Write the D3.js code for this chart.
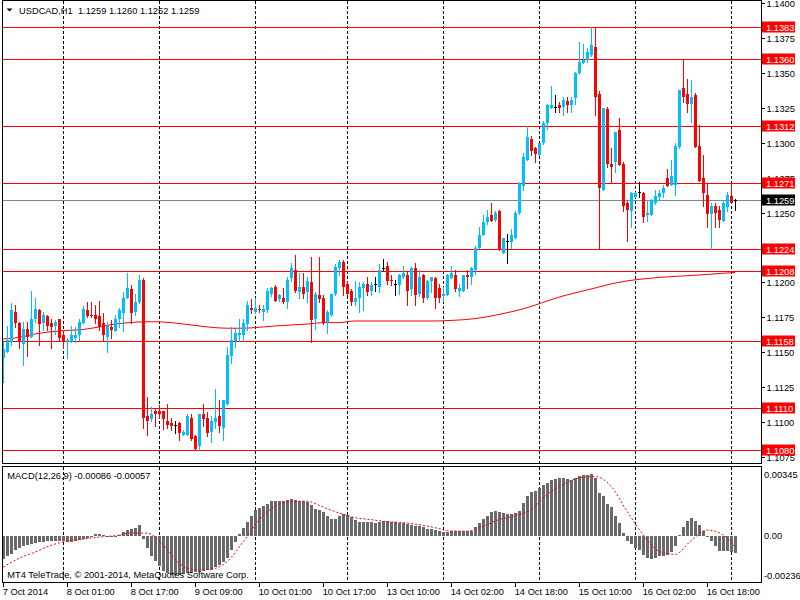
<!DOCTYPE html>
<html><head><meta charset="utf-8">
<script src="https://cdn.jsdelivr.net/npm/d3@7"></script>
<style>
body{margin:0;background:#fff;}
svg{display:block;font-family:'Liberation Sans',Arial,sans-serif;font-size:9.3px;}
</style></head><body>
<svg id="chart" width="800" height="600"></svg>
<script>
// ---------------- DATA ----------------
const headerText = "USDCAD,H1  1.1259 1.1260 1.1252 1.1259";
const macdTitle = "MACD(12,26,9) -0.00086 -0.00057";
const copyright = "MT4 TeleTrade, \u00A9 2001-2014, MetaQuotes Software Corp.";

const open = [
1.1146,1.1150,1.1157,1.1179,1.1171,1.1156,1.1167,1.1161,1.1174,1.1180,
1.1171,1.1176,1.1171,1.1169,1.1174,1.1162,1.1157,1.1157,1.1160,1.1162,
1.1171,1.1180,1.1177,1.1177,1.1176,1.1171,1.1161,1.1168,1.1165,1.1174,
1.1178,1.1189,1.1195,1.1179,1.1186,1.1202,1.1104,1.1102,1.1108,1.1108,
1.1108,1.1101,1.1099,1.1098,1.1099,1.1091,1.1091,1.1103,1.1090,1.1083,
1.1106,1.1103,1.1093,1.1100,1.1104,1.1096,1.1113,1.1147,1.1158,1.1162,
1.1162,1.1170,1.1182,1.1179,1.1181,1.1179,1.1180,1.1192,1.1197,1.1188,
1.1189,1.1186,1.1203,1.1209,1.1193,1.1197,1.1193,1.1200,1.1174,1.1191,
1.1189,1.1172,1.1177,1.1192,1.1210,1.1215,1.1199,1.1194,1.1186,1.1189,
1.1196,1.1199,1.1194,1.1199,1.1197,1.1210,1.1212,1.1202,1.1199,1.1198,
1.1204,1.1205,1.1195,1.1210,1.1192,1.1205,1.1189,1.1201,1.1203,1.1196,
1.1190,1.1191,1.1203,1.1205,1.1194,1.1194,1.1205,1.1204,1.1209,1.1225,
1.1234,1.1243,1.1248,1.1245,1.1251,1.1221,1.1230,1.1229,1.1232,1.1250,
1.1269,1.1288,1.1303,1.1296,1.1291,1.1300,1.1314,1.1325,1.1326,1.1327,
1.1326,1.1330,1.1327,1.1332,1.1350,1.1357,1.1359,1.1363,1.1369,1.1335,
1.1266,1.1324,1.1285,1.1286,1.1309,1.1285,1.1257,1.1251,1.1261,1.1265,
1.1264,1.1248,1.1248,1.1257,1.1261,1.1264,1.1275,1.1270,1.1270,1.1297,
1.1339,1.1335,1.1328,1.1334,1.1298,1.1275,1.1263,1.1249,1.1255,1.1252,
1.1244,1.1254,1.1262,1.1259];
const high = [
1.1157,1.1169,1.1185,1.1184,1.1172,1.1172,1.1172,1.1194,1.1189,1.1181,
1.1179,1.1177,1.1174,1.1173,1.1174,1.1165,1.1160,1.1169,1.1168,1.1174,
1.1183,1.1186,1.1186,1.1184,1.1187,1.1178,1.1172,1.1173,1.1177,1.1182,
1.1193,1.1207,1.1198,1.1192,1.1205,1.1203,1.1118,1.1111,1.1109,1.1112,
1.1108,1.1113,1.1103,1.1101,1.1100,1.1094,1.1106,1.1106,1.1091,1.1106,
1.1113,1.1107,1.1104,1.1124,1.1116,1.1116,1.1154,1.1168,1.1167,1.1174,
1.1174,1.1187,1.1188,1.1189,1.1184,1.1184,1.1196,1.1197,1.1198,1.1192,
1.1196,1.1204,1.1214,1.1220,1.1207,1.1207,1.1204,1.1218,1.1193,1.1218,
1.1191,1.1180,1.1192,1.1213,1.1216,1.1216,1.1201,1.1195,1.1201,1.1200,
1.1200,1.1204,1.1200,1.1204,1.1213,1.1217,1.1215,1.1205,1.1202,1.1206,
1.1212,1.1208,1.1211,1.1214,1.1209,1.1206,1.1202,1.1204,1.1204,1.1199,
1.1197,1.1206,1.1212,1.1209,1.1199,1.1205,1.1209,1.1211,1.1226,1.1240,
1.1248,1.1252,1.1257,1.1251,1.1252,1.1232,1.1235,1.1238,1.1251,1.1272,
1.1293,1.1312,1.1305,1.1297,1.1300,1.1316,1.1328,1.1341,1.1334,1.1329,
1.1333,1.1333,1.1333,1.1351,1.1372,1.1371,1.1368,1.1383,1.1383,1.1337,
1.1325,1.1326,1.1296,1.1308,1.1318,1.1286,1.1258,1.1265,1.1265,1.1272,
1.1265,1.1259,1.1260,1.1266,1.1266,1.1270,1.1281,1.1288,1.1300,1.1338,
1.1360,1.1346,1.1345,1.1336,1.1313,1.1291,1.1271,1.1257,1.1257,1.1255,
1.1258,1.1265,1.1271,1.1260];
const low = [
1.1129,1.1150,1.1155,1.1168,1.1153,1.1141,1.1147,1.1161,1.1172,1.1155,
1.1166,1.1166,1.1153,1.1163,1.1158,1.1153,1.1146,1.1157,1.1157,1.1159,
1.1171,1.1175,1.1175,1.1171,1.1166,1.1159,1.1150,1.1160,1.1165,1.1168,
1.1165,1.1189,1.1171,1.1177,1.1185,1.1096,1.1091,1.1101,1.1097,1.1103,
1.1095,1.1096,1.1094,1.1092,1.1087,1.1091,1.1091,1.1087,1.1080,1.1080,
1.1097,1.1090,1.1086,1.1096,1.1093,1.1087,1.1112,1.1142,1.1154,1.1158,
1.1158,1.1166,1.1178,1.1178,1.1179,1.1173,1.1179,1.1190,1.1187,1.1187,
1.1185,1.1182,1.1201,1.1193,1.1189,1.1189,1.1186,1.1157,1.1167,1.1186,
1.1170,1.1164,1.1176,1.1191,1.1205,1.1191,1.1191,1.1184,1.1184,1.1179,
1.1180,1.1191,1.1191,1.1194,1.1193,1.1208,1.1199,1.1198,1.1191,1.1192,
1.1203,1.1184,1.1191,1.1184,1.1190,1.1186,1.1188,1.1193,1.1182,1.1186,
1.1187,1.1191,1.1203,1.1194,1.1190,1.1194,1.1196,1.1199,1.1206,1.1225,
1.1234,1.1242,1.1244,1.1244,1.1223,1.1221,1.1214,1.1225,1.1232,1.1249,
1.1266,1.1288,1.1291,1.1286,1.1291,1.1299,1.1310,1.1325,1.1322,1.1322,
1.1320,1.1322,1.1322,1.1328,1.1349,1.1357,1.1358,1.1362,1.1320,1.1224,
1.1266,1.1283,1.1271,1.1279,1.1284,1.1251,1.1230,1.1240,1.1261,1.1261,
1.1243,1.1244,1.1248,1.1256,1.1259,1.1261,1.1269,1.1270,1.1263,1.1296,
1.1329,1.1322,1.1315,1.1297,1.1273,1.1255,1.1240,1.1224,1.1240,1.1240,
1.1244,1.1251,1.1257,1.1252];
const close = [
1.1152,1.1159,1.1180,1.1171,1.1157,1.1167,1.1161,1.1174,1.1181,1.1170,
1.1177,1.1169,1.1168,1.1172,1.1160,1.1158,1.1159,1.1162,1.1162,1.1172,
1.1181,1.1176,1.1176,1.1174,1.1168,1.1162,1.1169,1.1166,1.1174,1.1180,
1.1189,1.1196,1.1178,1.1186,1.1202,1.1103,1.1101,1.1106,1.1106,1.1106,
1.1102,1.1098,1.1097,1.1098,1.1092,1.1093,1.1104,1.1088,1.1081,1.1106,
1.1102,1.1092,1.1101,1.1103,1.1097,1.1116,1.1148,1.1159,1.1164,1.1164,
1.1171,1.1184,1.1180,1.1182,1.1180,1.1181,1.1194,1.1196,1.1187,1.1191,
1.1186,1.1202,1.1210,1.1194,1.1197,1.1192,1.1201,1.1173,1.1192,1.1188,
1.1171,1.1179,1.1192,1.1211,1.1215,1.1197,1.1192,1.1186,1.1189,1.1197,
1.1199,1.1193,1.1198,1.1199,1.1209,1.1210,1.1201,1.1201,1.1199,1.1205,
1.1207,1.1194,1.1210,1.1191,1.1204,1.1189,1.1201,1.1204,1.1189,1.1189,
1.1192,1.1205,1.1207,1.1195,1.1196,1.1205,1.1204,1.1210,1.1225,1.1234,
1.1243,1.1247,1.1244,1.1250,1.1223,1.1232,1.1230,1.1234,1.1250,1.1271,
1.1290,1.1304,1.1294,1.1292,1.1300,1.1314,1.1327,1.1327,1.1326,1.1325,
1.1331,1.1327,1.1331,1.1350,1.1358,1.1359,1.1365,1.1370,1.1333,1.1268,
1.1325,1.1285,1.1283,1.1308,1.1284,1.1255,1.1252,1.1264,1.1264,1.1265,
1.1247,1.1250,1.1259,1.1262,1.1264,1.1268,1.1269,1.1276,1.1298,1.1338,
1.1333,1.1328,1.1333,1.1297,1.1273,1.1264,1.1249,1.1255,1.1250,1.1245,
1.1257,1.1263,1.1257,1.1259];

// moving average (red line), read at every 4th bar
const maIndex = [0,4,8,12,16,20,24,28,32,36,40,44,48,52,56,60,64,68,72,76,80,84,88,92,96,100,104,108,112,116,120,124,128,132,136,140,144,148,152,156,160,164,168,172,176,180,183];
const maValues = [1.11595,1.11606,1.11631,1.11647,1.11656,1.11663,1.11681,1.11702,1.11713,1.11719,1.11717,1.11706,1.11692,1.11679,1.11672,1.11672,1.11679,1.11688,1.11695,1.11702,1.11712,1.11712,1.11724,1.11724,1.11724,1.11724,1.11724,1.11724,1.11728,1.11735,1.11749,1.11771,1.11796,1.11828,1.11867,1.11903,1.11932,1.1196,1.11989,1.12011,1.12025,1.12036,1.12043,1.1205,1.12057,1.12066,1.12071];

// MACD main (histogram)
const macdMain = [
-0.00117,-0.00103,-0.00090,-0.00073,-0.00062,-0.00053,-0.00047,-0.00040,-0.00035,-0.00032,
-0.00030,-0.00028,-0.00028,-0.00027,-0.00027,-0.00028,-0.00030,-0.00032,-0.00028,-0.00022,
-0.00017,-0.00012,-0.00007,0.00007,0.00010,0.00003,-0.00002,-0.00005,-0.00003,0.00003,
0.00017,0.00027,0.00035,0.00038,0.00055,-0.00015,-0.00062,-0.00100,-0.00128,-0.00153,
-0.00175,-0.00187,-0.00195,-0.00195,-0.00195,-0.00192,-0.00187,-0.00187,-0.00183,-0.00180,
-0.00175,-0.00172,-0.00170,-0.00157,-0.00145,-0.00130,-0.00112,-0.00070,-0.00033,0.00010,
0.00038,0.00068,0.00100,0.00127,0.00138,0.00150,0.00160,0.00172,0.00175,0.00175,
0.00175,0.00180,0.00183,0.00180,0.00175,0.00173,0.00170,0.00155,0.00133,0.00130,
0.00117,0.00100,0.00085,0.00083,0.00097,0.00110,0.00105,0.00093,0.00077,0.00070,
0.00068,0.00068,0.00068,0.00063,0.00067,0.00072,0.00072,0.00068,0.00067,0.00063,
0.00063,0.00058,0.00055,0.00050,0.00047,0.00042,0.00033,0.00033,0.00030,0.00025,
0.00017,0.00020,0.00025,0.00022,0.00022,0.00022,0.00022,0.00025,0.00042,0.00063,
0.00083,0.00100,0.00117,0.00125,0.00117,0.00113,0.00110,0.00110,0.00113,0.00122,
0.00163,0.00197,0.00217,0.00225,0.00238,0.00252,0.00263,0.00277,0.00283,0.00288,
0.00288,0.00283,0.00280,0.00288,0.00297,0.00302,0.00305,0.00310,0.00288,0.00213,
0.00200,0.00158,0.00142,0.00097,0.00063,0.00013,-0.00028,-0.00042,-0.00062,-0.00070,
-0.00095,-0.00112,-0.00115,-0.00112,-0.00103,-0.00100,-0.00095,-0.00083,-0.00053,0.00005,
0.00042,0.00072,0.00088,0.00072,0.00052,0.00025,-0.00003,-0.00028,-0.00050,-0.00075,
-0.00078,-0.00078,-0.00080,-0.00086];

// MACD signal (red dotted), read at every 4th bar
const signalIndex = [0,4,8,12,16,20,24,28,32,36,40,44,48,52,56,60,64,68,72,76,80,84,88,92,96,100,104,108,112,116,120,124,128,132,136,140,144,148,152,156,160,164,168,172,176,180,183];
const signalValues = [-0.00157,-0.00113,-0.00082,-0.00048,-0.00027,-0.00017,-0.00007,0.00000,0.00013,0.00013,-0.00045,-0.00137,-0.00170,-0.00167,-0.00130,-0.00032,0.00077,0.00147,0.00170,0.00172,0.00143,0.00113,0.00090,0.00080,0.00070,0.00065,0.00055,0.00040,0.00023,0.00022,0.00047,0.00080,0.00100,0.00130,0.00205,0.00255,0.00288,0.00295,0.00247,0.00122,0.00005,-0.00078,-0.00093,-0.00025,0.00028,0.00005,-0.00057];

const levels = [1.1383,1.1360,1.1312,1.1271,1.1224,1.1208,1.1158,1.1110,1.1080];
const bidPrice = 1.1259;
const priceTicks = [1.1400,1.1375,1.1350,1.1325,1.1300,1.1275,1.1250,1.1225,1.1200,1.1175,1.1150,1.1125,1.1100,1.1075];
const macdTicks = [0.00345,0,-0.00236];
const macdTickLabels = ["0.00345","0.00","-0.00236"];
const timeLabels = ["7 Oct 2014","8 Oct 01:00","8 Oct 17:00","9 Oct 09:00","10 Oct 01:00","10 Oct 17:00","13 Oct 10:00","14 Oct 02:00","14 Oct 18:00","15 Oct 10:00","16 Oct 02:00","16 Oct 18:00"];
const timeLabelIndex = [0,16,32,48,64,80,96,112,128,144,160,176];
const separatorIndex = [15,39,63,86,110,134,158,182];

// ---------------- LAYOUT ----------------
const L = 2.5, R = 761.5;
const mainTop = 0.5, mainBot = 463.5;
const macdTop = 466.5, macdBot = 582.5;
const BULL = '#00bfff', BEAR = '#ff0000', DOJI = '#000000';
const FS = '9.3px';

const svg = d3.select('#chart');
const N = open.length;
const x = d3.scaleLinear().domain([0, N - 1]).range([3, 735]);
const y = d3.scaleLinear().domain([1.10703, 1.14009]).range([463.5, 2]);
const ym = d3.scaleLinear().domain([-0.00236, 0.00345]).range([583, 466.5]);
const px = v => Math.round(v) + 0.5;

const defs = svg.append('defs');
defs.append('clipPath').attr('id','clipMain').append('rect')
  .attr('x', L).attr('y', mainTop).attr('width', R - L).attr('height', mainBot - mainTop);
defs.append('clipPath').attr('id','clipMacd').append('rect')
  .attr('x', L).attr('y', macdTop).attr('width', R - L).attr('height', macdBot - macdTop);

// ---- main window ----
const main = svg.append('g').attr('clip-path','url(#clipMain)');
main.selectAll('line.sep').data(separatorIndex).join('line')
  .attr('x1', d => px(x(d))).attr('x2', d => px(x(d)))
  .attr('y1', mainTop).attr('y2', mainBot)
  .attr('stroke', '#000').attr('stroke-dasharray', '3,2').attr('shape-rendering','crispEdges');
main.selectAll('line.lvl').data(levels).join('line')
  .attr('x1', L).attr('x2', R)
  .attr('y1', d => px(y(d))).attr('y2', d => px(y(d)))
  .attr('stroke', BEAR).attr('shape-rendering','crispEdges');
main.append('line').attr('x1', L).attr('x2', R)
  .attr('y1', px(y(bidPrice))).attr('y2', px(y(bidPrice)))
  .attr('stroke', '#778899').attr('shape-rendering','crispEdges');
main.append('path').datum(d3.range(maIndex.length))
  .attr('d', d3.line().x(k => x(maIndex[k])).y(k => y(maValues[k])).curve(d3.curveMonotoneX))
  .attr('fill','none').attr('stroke', BEAR).attr('stroke-width', 1);
const cg = main.append('g').attr('shape-rendering','crispEdges');
d3.range(N).forEach(i => {
  const o = open[i], c = close[i], h = high[i], l = low[i];
  const col = c > o ? BULL : (c < o ? BEAR : DOJI);
  const cx = Math.round(x(i));
  cg.append('line').attr('x1', cx + 0.5).attr('x2', cx + 0.5)
    .attr('y1', Math.round(y(h))).attr('y2', Math.round(y(l)) + 1).attr('stroke', col);
  if (c === o) {
    cg.append('line').attr('x1', cx - 1).attr('x2', cx + 2)
      .attr('y1', px(y(o))).attr('y2', px(y(o))).attr('stroke', col);
  } else {
    const y1 = Math.round(y(Math.max(o, c))), y2 = Math.round(y(Math.min(o, c)));
    cg.append('rect').attr('x', cx - 1).attr('width', 3)
      .attr('y', y1).attr('height', Math.max(1, y2 - y1)).attr('fill', col);
  }
});

// ---- MACD window ----
const mg = svg.append('g').attr('clip-path','url(#clipMacd)');
mg.selectAll('line.sep').data(separatorIndex).join('line')
  .attr('x1', d => px(x(d))).attr('x2', d => px(x(d)))
  .attr('y1', macdTop).attr('y2', macdBot)
  .attr('stroke', '#000').attr('stroke-dasharray', '3,2').attr('shape-rendering','crispEdges');
const zeroY = Math.round(ym(0));
mg.selectAll('rect.h').data(d3.range(N)).join('rect')
  .attr('x', i => Math.round(x(i)) - 1).attr('width', 3)
  .attr('y', i => macdMain[i] >= 0 ? Math.round(ym(macdMain[i])) : zeroY)
  .attr('height', i => Math.max(1, Math.abs(Math.round(ym(macdMain[i])) - zeroY)))
  .attr('fill', '#696969').attr('shape-rendering','crispEdges');
mg.append('path').datum(d3.range(signalIndex.length))
  .attr('d', d3.line().x(k => x(signalIndex[k])).y(k => ym(signalValues[k])).curve(d3.curveMonotoneX))
  .attr('fill','none').attr('stroke', BEAR).attr('stroke-width', 1).attr('stroke-dasharray','2,2');

// ---- frames ----
svg.append('rect').attr('x', L).attr('y', mainTop).attr('width', R - L).attr('height', mainBot - mainTop)
  .attr('fill','none').attr('stroke','#000').attr('shape-rendering','crispEdges');
svg.append('rect').attr('x', L).attr('y', macdTop).attr('width', R - L).attr('height', macdBot - macdTop)
  .attr('fill','none').attr('stroke','#000').attr('shape-rendering','crispEdges');

// ---- price axis ----
const yAxis = svg.append('g').attr('transform', `translate(${R},0)`)
  .call(d3.axisRight(y).tickValues(priceTicks).tickFormat(d3.format('.4f')).tickSize(3).tickSizeOuter(0));
yAxis.select('.domain').remove();
yAxis.attr('font-family', null).attr('font-size', null);
yAxis.selectAll('.tick line').attr('stroke','#000').attr('shape-rendering','crispEdges');
yAxis.selectAll('.tick text').attr('x', 5).attr('dy','0.36em').attr('fill','#000').style('font-size', FS);

levels.forEach(v => {
  const yy = px(y(v));
  svg.append('rect').attr('x', 762).attr('y', yy - 6).attr('width', 33).attr('height', 11).attr('fill', BEAR);
  svg.append('text').attr('x', 766).attr('y', yy + 3.3).attr('fill','#fff').text(v.toFixed(4));
});
{
  const yy = px(y(bidPrice));
  svg.append('rect').attr('x', 762).attr('y', yy - 6).attr('width', 33).attr('height', 11).attr('fill', '#000');
  svg.append('text').attr('x', 766).attr('y', yy + 3.3).attr('fill','#fff').text(bidPrice.toFixed(4));
}

// ---- MACD axis ----
const mAxis = svg.append('g').attr('transform', `translate(${R},0)`)
  .call(d3.axisRight(ym).tickValues(macdTicks).tickFormat((d, i) => macdTickLabels[i]).tickSize(0).tickSizeOuter(0));
mAxis.select('.domain').remove();
mAxis.attr('font-family', null).attr('font-size', null);
mAxis.selectAll('.tick').attr('transform', null);
mAxis.selectAll('.tick text')
  .attr('x', 2.5).attr('dy', null)
  .attr('y', d => Math.max(478.3, Math.min(579, ym(d) + 3.3)))
  .attr('fill','#000').style('font-size', FS);

// ---- time axis ----
const xAxis = svg.append('g').attr('transform', `translate(0,${macdBot})`)
  .call(d3.axisBottom(x).tickValues(timeLabelIndex).tickFormat((d, i) => timeLabels[i]).tickSize(4).tickSizeOuter(0));
xAxis.select('.domain').remove();
xAxis.attr('font-family', null).attr('font-size', null);
xAxis.selectAll('.tick').attr('transform', d => `translate(${Math.round(x(d)) + 0.5},0)`);
xAxis.selectAll('.tick line').attr('stroke','#000').attr('shape-rendering','crispEdges');
xAxis.selectAll('.tick text').attr('text-anchor','start').attr('x', -0.8).attr('y', 12).attr('dy', null)
  .attr('fill','#000').style('font-size', FS);

// ---- texts ----
svg.append('path').attr('d','M6.5,8.5L12.5,8.5L9.5,11.5Z').attr('fill','#000');
svg.append('text').attr('x', 19).attr('y', 14).style('white-space','pre').attr('fill','#000').text(headerText);
svg.append('text').attr('x', 7.3).attr('y', 479.3).attr('fill','#000').text(macdTitle);
svg.append('text').attr('x', 7.3).attr('y', 578.3).attr('fill','#000').text(copyright);
</script>
</body></html>
